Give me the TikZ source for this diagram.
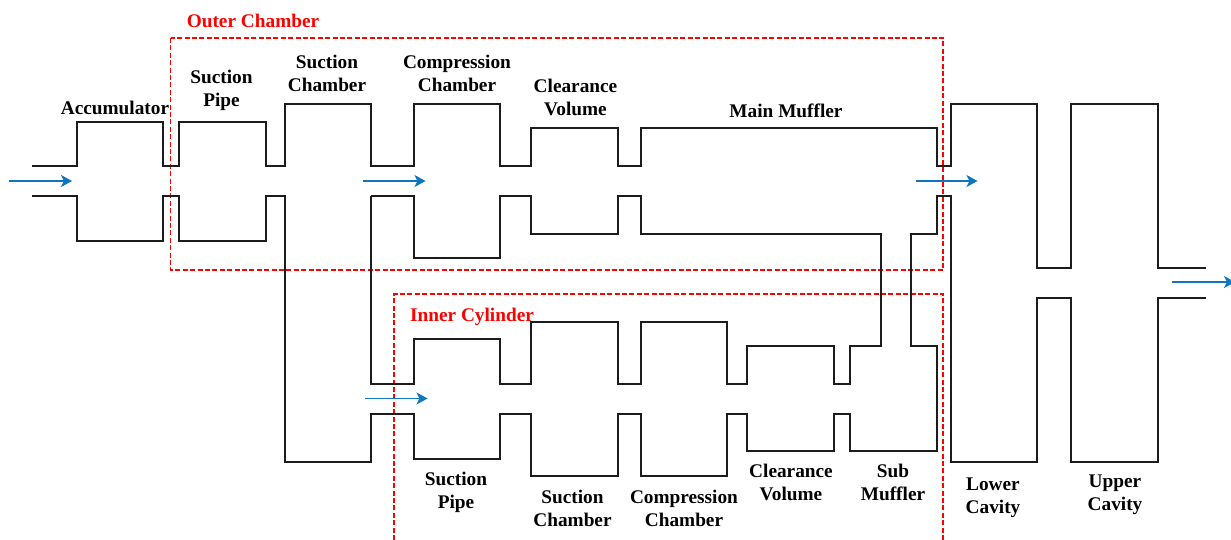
\documentclass[tikz,border=0pt]{standalone}
\usepackage{fontspec}
\setmainfont{Liberation Serif}
\usetikzlibrary{arrows.meta}
\definecolor{flowblue}{HTML}{0F75BD}
\definecolor{wallcol}{HTML}{1C1C1C}
\tikzset{
  wall/.style={draw=wallcol,line width=2pt,line join=miter},
  zone/.style={draw=red,line width=1.8pt,dash pattern=on 5pt off 2.4pt},
  flow/.style={draw=flowblue,line width=1.1pt,-{Stealth[length=11pt,width=12pt,inset=3pt]}},
  lab/.style={font=\fontsize{19.3}{23}\selectfont\bfseries,align=center,text=black,inner sep=0pt},
  zonelab/.style={lab,text=red}
}
\begin{document}
\begin{tikzpicture}[x=1pt,y=-1pt]
\useasboundingbox (0,0) rectangle (1231,540);
\clip (0,0) rectangle (1231,540);
% zones
\draw[zone] (170.5,38) rectangle (943.3,270);
\draw[zone] (394.3,540) -- (394.3,294) -- (943.3,294) -- (943.3,540);
% upper wall
\draw[wall] (32,166) -| (76.5,122) -| (162.5,166) -| (179,122) -| (265.5,166) -| (284.8,104) -| (371,166) -| (413.7,104) -| (500,166) -| (531,128) -| (617.5,166) -| (640.7,128) -| (936.7,166) -| (950.5,104) -| (1036.7,268) -| (1071.3,104) -| (1157.8,268) -- (1206,268);
% lower wall
\draw[wall] (32,196) -| (76.5,240.5) -| (162.5,196) -| (179,240.5) -| (265.5,196) -| (284.8,462) -| (371,413.5) -| (413.7,458.5) -| (500,413.5) -| (531,475.5) -| (617.5,413.5) -| (640.7,475.5) -| (727,413.5) -| (746.8,451.3) -| (833.5,413.5) -| (850.4,451.3) -| (936.6,346) -| (910.8,233.7) -| (936.7,196) -| (950.5,462) -| (1036.7,298) -| (1071.3,462) -| (1157.8,298) -- (1206,298);
% middle wall
\draw[wall] (371,196) -| (413.7,258) -| (500,196) -| (531,233.7) -| (617.5,196) -| (640.7,233.7) -| (881,346) -| (850.4,384) -| (833.5,346) -| (746.8,384) -| (727,321.5) -| (640.7,384) -| (617.5,321.5) -| (531,384) -| (500,339) -| (413.7,384) -| (371,196);
% flow arrows
\coordinate (a1s) at (9,181);     \coordinate (a1e) at (72,181);
\coordinate (a2s) at (363,181);   \coordinate (a2e) at (425.5,181);
\coordinate (a3s) at (915.5,181); \coordinate (a3e) at (977.5,181);
\coordinate (a4s) at (365,398.5); \coordinate (a4e) at (427.5,398.5);
\coordinate (a5s) at (1172,282);  \coordinate (a5e) at (1235,282);
\draw[flow] (a1s) -- (a1e);
\draw[flow] (a2s) -- (a2e);
\draw[flow] (a3s) -- (a3e);
\draw[flow] (a4s) -- (a4e);
\draw[flow] (a5s) -- (a5e);
% labels
\node[zonelab] (outer) at (253,21) {Outer Chamber};
\node[zonelab] (inner) at (472,317) {Inner Cylinder};
\node[lab] (acc) at (115,108) {Accumulator};
\node[lab] (sp1) at (221.5,90.5) {Suction\\Pipe};
\node[lab] (sc1) at (327,73) {Suction\\Chamber};
\node[lab] (cc1) at (457,73) {Compression\\Chamber};
\node[lab] (cv1) at (575.5,97) {Clearance\\Volume};
\node[lab] (mm) at (786,110.5) {Main Muffler};
\node[lab] (sp2) at (456,492.5) {Suction\\Pipe};
\node[lab] (sc2) at (572.5,508.5) {Suction\\Chamber};
\node[lab] (cc2) at (684,508.5) {Compression\\Chamber};
\node[lab] (cv2) at (791,482.5) {Clearance\\Volume};
\node[lab] (sm) at (893,482) {Sub\\Muffler};
\node[lab] (lc) at (993,497.5) {Lower\\Cavity};
\node[lab] (uc) at (1115,495) {Upper\\Cavity};
\end{tikzpicture}
\end{document}
